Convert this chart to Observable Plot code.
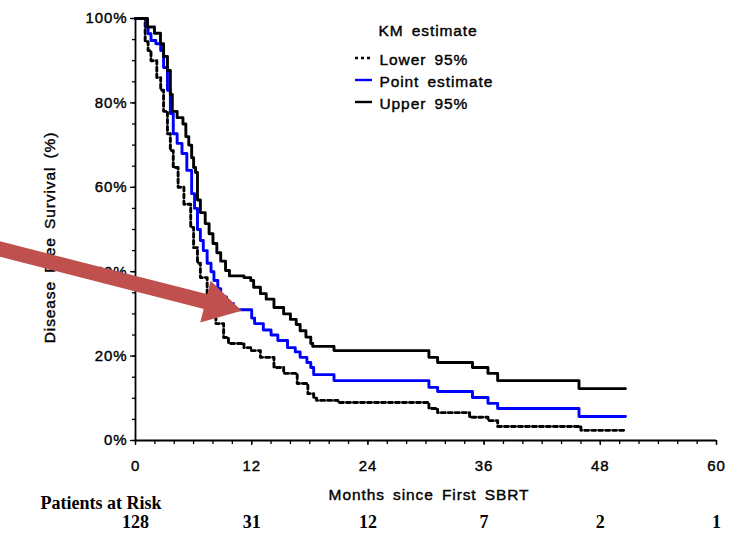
<!DOCTYPE html>
<html>
<head>
<meta charset="utf-8">
<script src="https://cdn.jsdelivr.net/npm/d3@7"></script>
<script src="https://cdn.jsdelivr.net/npm/@observablehq/plot@0.6"></script>
<style>
  body { margin: 0; background: #fff; }
  #chart text { letter-spacing: 0.9px; word-spacing: 3px; stroke: #000; stroke-width: 0.4px; }
  #chart g[font-family*="Serif"] text { letter-spacing: 0; word-spacing: 0; stroke: none; }
</style>
</head>
<body>
<div id="chart"></div>
<script>
// ---- Data ----
const upperTime = [0, 1.24, 1.96, 2.58, 2.9, 3.3, 3.6, 3.8, 4.3, 4.9, 5.2, 5.5, 5.8, 6.0, 6.2, 6.4, 6.7, 7.2, 7.6, 8.0, 8.4, 8.8, 9.3, 9.7, 11.2, 11.9, 12.2, 12.9, 13.5, 14.3, 15.3, 16.0, 16.6, 17.0, 17.6, 18.1, 18.3, 20.5, 30.3, 31.2, 34.8, 36.4, 37.4, 45.8, 50.6];
const upperSurv = [100, 98, 96.5, 94, 91, 87.7, 82, 78, 76.5, 75, 72, 70, 67, 64.7, 63.5, 57, 54, 51.4, 49, 46.7, 44.5, 42.5, 40.3, 39, 38.6, 37.9, 36.3, 34.8, 33.5, 31.5, 30, 28.7, 27.5, 26, 24.5, 23, 22.3, 21.3, 19.7, 18.5, 17.3, 15.9, 14.2, 12.3, 12.3];

const pointTime = [0, 1.1, 1.3, 1.6, 2.1, 2.6, 2.9, 3.3, 3.6, 3.9, 4.3, 4.8, 5.3, 5.8, 6.1, 6.4, 6.7, 7.0, 7.4, 7.8, 8.1, 8.5, 8.8, 9.4, 10.1, 12.0, 12.3, 13.2, 14.0, 14.7, 15.7, 16.5, 17.0, 17.7, 18.1, 18.4, 20.5, 30.3, 31.2, 34.8, 36.4, 37.4, 45.8, 50.6];
const pointSurv = [100, 98, 96.4, 94.8, 94, 92.4, 88.4, 83, 77.5, 72.7, 70.4, 68, 64, 58.5, 55, 50, 47.4, 45, 42, 40, 37.9, 36, 34, 32.5, 31, 29, 27.7, 26.2, 25, 23.7, 22, 21, 19.7, 18.5, 17.3, 15.6, 14.2, 12.6, 11.6, 10.2, 8.8, 7.6, 5.7, 5.7];

const lowerTime = [0, 1.0, 1.3, 1.6, 2.2, 2.6, 2.9, 3.3, 3.6, 3.9, 4.4, 5.0, 5.7, 6.0, 6.4, 6.7, 7.4, 8.3, 9.1, 9.6, 11.2, 11.9, 12.9, 14.3, 15.3, 16.7, 17.8, 18.4, 18.7, 20.9, 30.3, 31.2, 34.5, 36.4, 37.4, 46.0, 50.6];
const lowerSurv = [100, 94.5, 92.4, 90, 86, 83, 78, 72.7, 68.7, 64.7, 60, 56, 50.5, 45.7, 42, 38.6, 33.9, 27.7, 24.4, 23, 22, 21.3, 19.7, 17.3, 15.9, 13.5, 11.1, 10, 9.5, 9, 7.6, 6.6, 5.5, 4.7, 3.3, 2.4, 2.4];

const xTicks = [0, 12, 24, 36, 48, 60];
const yTicks = [0, 20, 40, 60, 80, 100];
const riskMonths = [0, 12, 24, 36, 48, 60];
const riskCounts = [128, 31, 12, 7, 2, 1];
const legendTitle = "KM estimate";
const legendNames = ["Lower 95%", "Point estimate", "Upper 95%"];
const xLabel = "Months since First SBRT";
const yLabel = "Disease Free Survival (%)";
const riskLabel = "Patients at Risk";
// annotation arrow (data units): tail and head centre
const arrow = {x1: -15, y1: 45.95, x2: 8.47, y2: 32.2};

// ---- Layout ----
const W = 748, H = 533, ML = 135, MR = 32, MT = 18, MB = 93;
const sx = p => (p - ML) / (W - ML - MR) * 60;
const sy = p => (H - MB - p) / (H - MB - MT) * 100;

const toRows = (t, s) => t.map((x, i) => ({x, y: s[i]}));
const series = [
  {rows: toRows(lowerTime, lowerSurv), stroke: "#000", dash: "4,3"},
  {rows: toRows(pointTime, pointSurv), stroke: "#0000ff", dash: null},
  {rows: toRows(upperTime, upperSurv), stroke: "#000", dash: null}
];
const legendStyle = [
  {stroke: "#000", dash: "3,3"},
  {stroke: "#0000ff", dash: null},
  {stroke: "#000", dash: null}
];
const serif = "'Liberation Serif', 'Times New Roman', serif";

const marks = [
  // axes
  Plot.axisY({ticks: d3.range(0, 101, 5), tickSize: 3, tickFormat: () => "", label: null, strokeWidth: 1.3}),
  Plot.axisY({ticks: yTicks, tickSize: 5, tickPadding: 3, tickFormat: d => d + "%", label: null, fontSize: 15, strokeWidth: 1.3}),
  Plot.axisX({ticks: d3.range(0, 61, 2), tickSize: 4, tickFormat: () => "", label: null, strokeWidth: 1.3}),
  Plot.axisX({ticks: xTicks, tickSize: 5, tickPadding: 15, label: null, fontSize: 15, strokeWidth: 1.3}),
  Plot.ruleX([0], {y1: 0, y2: 100, strokeWidth: 1.8}),
  Plot.ruleY([0], {x1: 0, x2: 60, strokeWidth: 1.8}),
  // survival curves
  ...series.map(s => Plot.line(s.rows, {x: "x", y: "y", curve: "step-after", stroke: s.stroke, strokeWidth: 2.9, strokeDasharray: s.dash})),
  // legend
  Plot.text([legendTitle], {x: sx(378), y: sy(30.5), textAnchor: "start", lineAnchor: "middle", fontSize: 15.5}),
  ...legendNames.map((n, i) => Plot.ruleY([n], {y: sy(57.5 + 22 * i), x1: sx(355), x2: sx(372), stroke: legendStyle[i].stroke, strokeWidth: 2.4, strokeDasharray: legendStyle[i].dash})),
  Plot.text(legendNames, {x: sx(379), y: (d, i) => sy(60 + 22 * i), textAnchor: "start", lineAnchor: "middle", fontSize: 15.5}),
  // axis titles
  Plot.text([xLabel], {frameAnchor: "bottom", dx: 3, dy: 55, textAnchor: "middle", lineAnchor: "middle", fontSize: 15.5}),
  Plot.text([yLabel], {frameAnchor: "left", dx: -85, dy: 8, rotate: -90, textAnchor: "middle", lineAnchor: "middle", fontSize: 15.5}),
  // patients at risk
  Plot.text([riskLabel], {frameAnchor: "bottom-left", dx: 40 - ML, dy: 63, textAnchor: "start", lineAnchor: "middle", fontFamily: serif, fontWeight: "bold", fontSize: 18}),
  Plot.text(riskCounts, {x: (d, i) => riskMonths[i], frameAnchor: "bottom", dy: 82, textAnchor: "middle", lineAnchor: "middle", fontFamily: serif, fontWeight: "bold", fontSize: 18}),
  // annotation arrow
  Plot.link([arrow], {x1: "x1", y1: "y1", x2: "x2", y2: "y2", stroke: "#c0504d", strokeWidth: 15}),
  Plot.dot([arrow], {x: "x2", y: "y2", symbol: "triangle", r: 16, fill: "#c0504d", stroke: null, rotate: 104})
];

const chart = Plot.plot({
  width: W, height: H,
  marginLeft: ML, marginRight: MR, marginTop: MT, marginBottom: MB,
  x: {domain: [0, 60]},
  y: {domain: [0, 100]},
  style: {fontFamily: "'Liberation Sans', Arial, sans-serif", fontSize: "15px", color: "#000", background: "#fff", overflow: "visible"},
  marks
});
document.getElementById("chart").appendChild(chart);
</script>
</body>
</html>
